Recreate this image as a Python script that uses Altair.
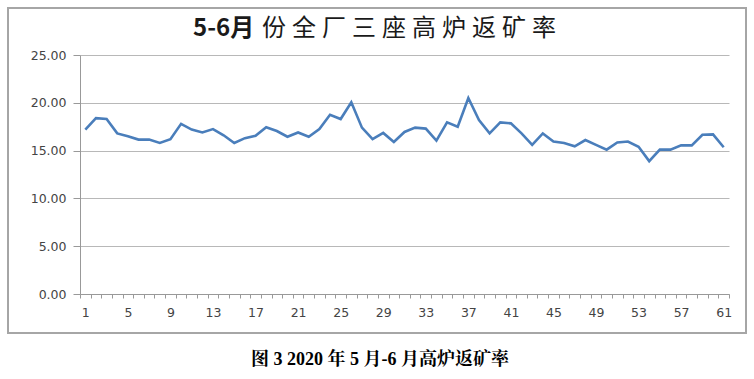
import altair as alt
import pandas as pd

days = list(range(1, 62))
rate = [17.2, 18.4, 18.3, 16.8, 16.5, 16.15, 16.15, 15.8, 16.2, 17.8,
        17.2, 16.9, 17.25, 16.6, 15.8, 16.3, 16.55, 17.45, 17.05, 16.45,
        16.9, 16.45, 17.25, 18.75, 18.3, 20.05, 17.4, 16.2, 16.85, 15.9,
        16.95, 17.4, 17.3, 16.05, 17.95, 17.5, 20.5, 18.2, 16.8, 17.95,
        17.85, 16.8, 15.6, 16.8, 15.95, 15.8, 15.45, 16.1, 15.6, 15.1,
        15.85, 15.95, 15.4, 13.9, 15.1, 15.1, 15.55, 15.55, 16.65, 16.7,
        15.35]

title_bold = "5-6月"
title_rest = "\u2005".join("份全厂三座高炉返矿率")
caption_text = "图 3 2020 年 5 月-6 月高炉返矿率"
y_ticks = [0, 5, 10, 15, 20, 25]

df = pd.DataFrame({"day": days, "rate": rate})

W, H = 649, 239

line = alt.Chart(df).mark_line(color="#4a7ebb", strokeWidth=2.6).encode(
    x=alt.X("day:O", sort="ascending",
            scale=alt.Scale(paddingInner=0, paddingOuter=0),
            axis=alt.Axis(title=None, labelAngle=0, tickBand="extent",
                          labelExpr="(datum.value - 1) % 4 == 0 ? datum.label : ''",
                          labelFont="DejaVu Sans", labelFontSize=12.5,
                          labelColor="#444444", tickColor="#999999",
                          domainColor="#999999", tickSize=4, labelPadding=8,
                          grid=False, labelOverlap=False)),
    y=alt.Y("rate:Q", scale=alt.Scale(domain=[0, 25], nice=False),
            axis=alt.Axis(title=None, values=y_ticks, format=".2f",
                          labelFont="DejaVu Sans", labelFontSize=12.5,
                          labelColor="#444444", tickColor="#999999",
                          domainColor="#999999", tickSize=7, labelPadding=7,
                          gridColor="#b8b8b8", grid=True)),
)

frame = alt.Chart(df).mark_rect(fill=None, stroke="#a6a6a6", strokeWidth=1.2).encode(
    x=alt.value(-72), x2=alt.value(666), y=alt.value(-47), y2=alt.value(278)
)

title1 = alt.Chart(pd.DataFrame({"t": [title_bold]})).mark_text(
    font="Noto Sans CJK SC", fontSize=24, fontWeight="bold", color="#1a1a1a",
    align="left", baseline="middle"
).encode(x=alt.value(113), y=alt.value(-26), text="t:N")

title2 = alt.Chart(pd.DataFrame({"t": [title_rest]})).mark_text(
    font="Noto Sans CJK SC", fontSize=24, fontWeight="normal", color="#1a1a1a",
    align="left", baseline="middle"
).encode(x=alt.value(182), y=alt.value(-26), text="t:N")

caption = alt.Chart(pd.DataFrame({"t": [caption_text]})).mark_text(
    font="Liberation Serif, Noto Serif CJK SC, Noto Sans CJK SC", fontSize=18,
    fontWeight="bold", color="#000000", align="center", baseline="middle"
).encode(x=alt.value(300), y=alt.value(305), text="t:N")

chart = alt.layer(frame, line, title1, title2, caption).properties(
    width=W, height=H,
    padding={"left": 80, "top": 55, "right": 25, "bottom": 85},
    autosize=alt.AutoSizeParams(type="none"),
    background="white",
).configure_view(stroke=None)

chart.save("out.html", embed_options={"renderer": "svg", "actions": False})
